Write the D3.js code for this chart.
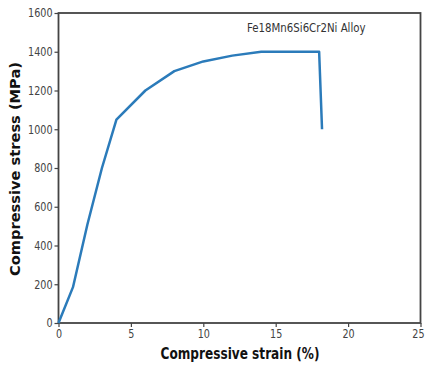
<!DOCTYPE html>
<html>
<head>
<meta charset="utf-8">
<script src="https://cdn.jsdelivr.net/npm/d3@7"></script>
<style>
  body { margin: 0; background: #fff; }
  text { font-family: "DejaVu Sans", sans-serif; }
</style>
</head>
<body>
<div id="chart"></div>
<script>
// data
const strain = [0, 1, 2, 3, 4, 6, 8, 10, 12, 14, 18, 18.2];
const stress = [0, 185, 510, 800, 1050, 1200, 1300, 1350, 1380, 1400, 1400, 1000];
const xTicks = [0, 5, 10, 15, 20, 25];
const yTicks = [0, 200, 400, 600, 800, 1000, 1200, 1400, 1600];
const alloyName = "Fe18Mn6Si6Cr2Ni Alloy";

const width = 427, height = 365;
const margin = { left: 58.5, top: 13, right: 6.5, bottom: 42 };

const svg = d3.select("#chart").append("svg")
  .attr("width", width)
  .attr("height", height);

const x = d3.scaleLinear().domain([0, 25]).range([margin.left, width - margin.right]);
const y = d3.scaleLinear().domain([0, 1600]).range([height - margin.bottom, margin.top]);

// squeeze text horizontally like the original picture
function squeeze(sel, k) {
  sel.each(function () {
    const w = this.getComputedTextLength();
    d3.select(this).attr("textLength", w * k).attr("lengthAdjust", "spacingAndGlyphs");
  });
}

const xAxis = svg.append("g")
  .attr("transform", `translate(0,${y(0)})`)
  .call(d3.axisBottom(x).tickValues(xTicks).tickFormat(d3.format("d"))
    .tickSize(4).tickPadding(2).tickSizeOuter(0));
const yAxis = svg.append("g")
  .attr("transform", `translate(${x(0)},0)`)
  .call(d3.axisLeft(y).tickValues(yTicks).tickFormat(d3.format("d"))
    .tickSize(4).tickPadding(2).tickSizeOuter(0));

[xAxis, yAxis].forEach(a => {
  a.select(".domain").remove();
  a.selectAll(".tick line").attr("stroke", "#444").attr("stroke-width", 1.2);
  a.selectAll(".tick text")
    .attr("fill", "#444")
    .style("font-size", "12px")
    .call(squeeze, 0.8);
});

// last x label sits against the right edge
xAxis.selectAll(".tick text")
  .filter(d => d === 25)
  .attr("text-anchor", "end")
  .attr("x", 3.5);

// frame
svg.append("rect")
  .attr("x", x(0))
  .attr("y", y(1600))
  .attr("width", x(25) - x(0))
  .attr("height", y(0) - y(1600))
  .attr("fill", "none")
  .attr("stroke", "#444")
  .attr("stroke-width", 1.8);

// curve
const line = d3.line()
  .x((d, i) => x(strain[i]))
  .y(d => y(d));

svg.append("path")
  .datum(stress)
  .attr("d", line)
  .attr("fill", "none")
  .attr("stroke", "#2b7bba")
  .attr("stroke-width", 2.5)
  .attr("stroke-linejoin", "round");

// annotation
svg.append("text")
  .attr("x", 247)
  .attr("y", 32)
  .attr("fill", "#333")
  .style("font-size", "12px")
  .text(alloyName)
  .call(squeeze, 0.85);

// axis labels
svg.append("text")
  .attr("x", 240)
  .attr("y", 359)
  .attr("text-anchor", "middle")
  .attr("fill", "#111")
  .style("font-size", "15px")
  .style("font-weight", "bold")
  .text("Compressive strain (%)")
  .attr("textLength", 159)
  .attr("lengthAdjust", "spacingAndGlyphs");

svg.append("text")
  .attr("transform", "translate(20,169) rotate(-90)")
  .attr("text-anchor", "middle")
  .attr("fill", "#111")
  .style("font-size", "14px")
  .style("font-weight", "bold")
  .text("Compressive stress (MPa)")
  .attr("textLength", 214)
  .attr("lengthAdjust", "spacingAndGlyphs");
</script>
</body>
</html>
